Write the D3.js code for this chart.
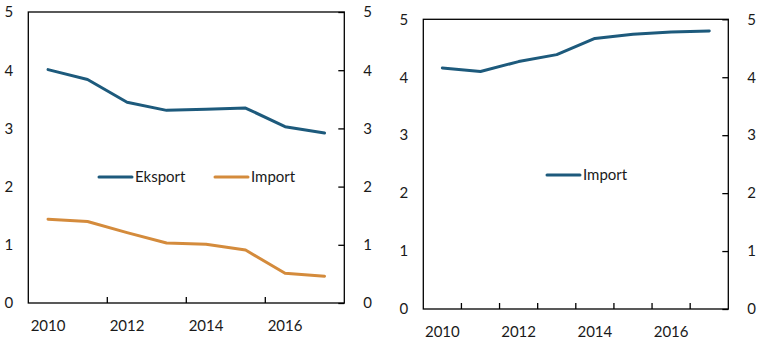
<!DOCTYPE html>
<html>
<head>
<meta charset="utf-8">
<script src="https://cdn.jsdelivr.net/npm/d3@7"></script>
<style>
  body { margin: 0; background: #fff; }
  svg text { font-family: Lato, "Open Sans", sans-serif; font-size: 15px; fill: #1a1a1a; }
</style>
</head>
<body>
<svg id="chart" width="765" height="342"></svg>
<script>
// years on the category axis, shared by both panels
const years = [2010, 2011, 2012, 2013, 2014, 2015, 2016, 2017];
const yearLabels = ["2010", "2012", "2014", "2016"];
const yTicks = [0, 1, 2, 3, 4, 5];

// left panel
const eksportLeft = [4.01, 3.84, 3.45, 3.31, 3.33, 3.35, 3.03, 2.92];
const importLeft = [1.44, 1.40, 1.21, 1.03, 1.01, 0.91, 0.51, 0.46];

// right panel
const importRight = [4.16, 4.10, 4.27, 4.39, 4.67, 4.74, 4.78, 4.80];

const BLUE = "#1d5a7c";
const ORANGE = "#d48b3c";

const svg = d3.select("#chart");
const fmt = d3.format("d");

// DRAW ONE PANEL
const drawPanel = cfg => {
  const { left, right, top, bottom, tickEvery, series, legend } = cfg;

  const xScale = d3.scaleBand().domain(years).range([left, right]);
  const yScale = d3.scaleLinear().domain([0, 5]).range([bottom, top]);

  const g = svg.append("g");

  // frame
  g.append("rect")
    .attr("x", left)
    .attr("y", top)
    .attr("width", right - left)
    .attr("height", bottom - top)
    .attr("fill", "none")
    .attr("stroke", "#000")
    .attr("stroke-width", 1.3);

  // left value labels
  const yLeft = d3.axisLeft(yScale).tickValues(yTicks).tickFormat(fmt).tickSize(0).tickPadding(15);
  g.append("g").attr("transform", `translate(${left},0)`).call(yLeft)
    .call(a => a.select(".domain").remove());

  // right value labels with inward ticks
  const yRight = d3.axisRight(yScale).tickValues(yTicks).tickFormat(fmt).tickSize(-6).tickPadding(19);
  g.append("g").attr("transform", `translate(${right},0)`).call(yRight)
    .call(a => a.select(".domain").remove())
    .call(a => a.selectAll(".tick line").attr("stroke", "#000").attr("stroke-width", 1.3));

  // category ticks on band boundaries
  const boundaries = years.slice(1).filter((d, i) => (i + 1) % tickEvery === 0);
  g.selectAll(".xtick")
    .data(boundaries)
    .join("line")
    .attr("x1", d => xScale(d))
    .attr("x2", d => xScale(d))
    .attr("y1", bottom)
    .attr("y2", bottom - 6)
    .attr("stroke", "#000")
    .attr("stroke-width", 1.3);

  // year labels
  g.selectAll(".xlabel")
    .data(yearLabels)
    .join("text")
    .attr("x", d => xScale(+d) + xScale.bandwidth() / 2)
    .attr("y", bottom + 28)
    .attr("text-anchor", "middle")
    .text(d => d);

  // lines
  const line = d3.line()
    .x((d, i) => xScale(years[i]) + xScale.bandwidth() / 2)
    .y(d => yScale(d));

  series.forEach(s => {
    g.append("path")
      .attr("d", line(s.values))
      .attr("fill", "none")
      .attr("stroke", s.color)
      .attr("stroke-width", 3)
      .attr("stroke-linejoin", "round")
      .attr("stroke-linecap", "round");
  });

  // legend
  legend.forEach(l => {
    g.append("line")
      .attr("x1", l.x)
      .attr("x2", l.x + 33)
      .attr("y1", l.y)
      .attr("y2", l.y)
      .attr("stroke", l.color)
      .attr("stroke-width", 3)
      .attr("stroke-linecap", "round");
    g.append("text")
      .attr("x", l.x + 36)
      .attr("y", l.y)
      .attr("dy", "0.35em")
      .text(l.name);
  });
};

drawPanel({
  left: 28.3, right: 344.3, top: 12, bottom: 303, tickEvery: 2,
  series: [
    { values: eksportLeft, color: BLUE },
    { values: importLeft, color: ORANGE }
  ],
  legend: [
    { name: "Eksport", color: BLUE, x: 99, y: 177 },
    { name: "Import", color: ORANGE, x: 215, y: 177 }
  ]
});

drawPanel({
  left: 423.3, right: 728.3, top: 19.3, bottom: 309, tickEvery: 1,
  series: [
    { values: importRight, color: BLUE }
  ],
  legend: [
    { name: "Import", color: BLUE, x: 547, y: 175 }
  ]
});
</script>
</body>
</html>
